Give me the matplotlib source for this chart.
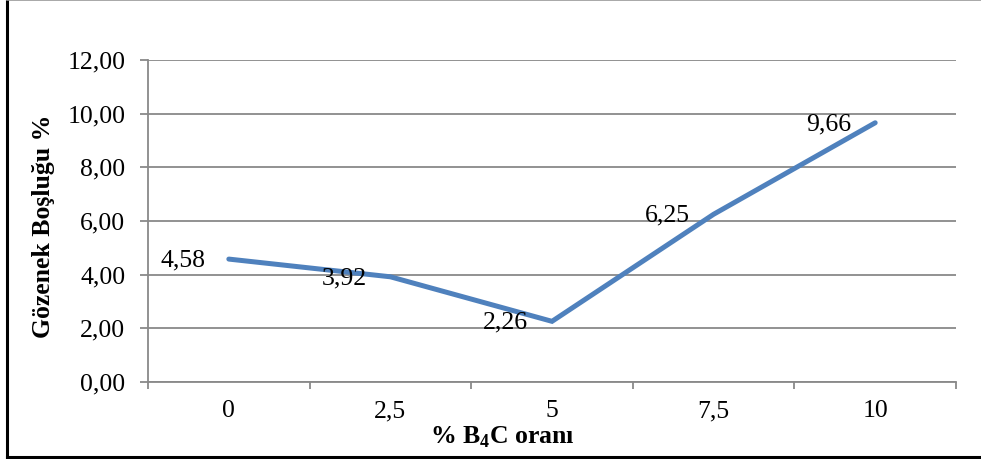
#!/usr/bin/env python3
"""Line chart: pore fraction versus B4C content."""

import matplotlib

matplotlib.use("Agg")
import matplotlib.pyplot as plt
from matplotlib.lines import Line2D
from matplotlib.ticker import FuncFormatter

categories = ["0", "2,5", "5", "7,5", "10"]
porosity = [4.58, 3.92, 2.26, 6.25, 9.66]
y_ticks = [0, 2, 4, 6, 8, 10, 12]

plt.rcParams["font.family"] = ["Liberation Serif", "DejaVu Serif"]
plt.rcParams["mathtext.fontset"] = "custom"
plt.rcParams["mathtext.rm"] = "Liberation Serif"
plt.rcParams["mathtext.bf"] = "Liberation Serif:bold"

GRID = "#898989"
LINE = "#4F81BD"
FS = 18.5

fig = plt.figure(figsize=(9.81, 4.59), dpi=100)
ax = fig.add_axes([0.1509, 0.1678, 0.8236, 0.7015])

x = list(range(len(categories)))
ax.plot(x, porosity, color=LINE, linewidth=3.6, solid_capstyle="round",
        solid_joinstyle="miter", zorder=3)

# data labels sit to the left of each point
for xi, v in zip(x, porosity):
    ax.annotate(f"{v:.2f}".replace(".", ","), (xi, v), xytext=(-17, -1),
                textcoords="offset points", ha="right", va="center",
                fontsize=FS, color="black", zorder=4)

ax.set_xlim(-0.5, len(categories) - 0.5)
ax.set_ylim(0, 12)
ax.set_yticks(y_ticks)
ax.yaxis.set_major_formatter(FuncFormatter(lambda v, _: f"{v:.2f}".replace(".", ",")))
ax.yaxis.grid(True, color=GRID, linewidth=1.3)
ax.set_axisbelow(True)

# category boundaries get the tick marks, labels sit between them
ax.set_xticks([i - 0.5 for i in range(len(categories) + 1)])
ax.set_xticklabels([])
ax.set_xticks(x, minor=True)
ax.set_xticklabels(categories, minor=True)
ax.tick_params(axis="x", which="major", length=5, width=1.3, color=GRID)
ax.tick_params(axis="x", which="minor", length=0, pad=13, labelsize=FS)
ax.tick_params(axis="y", length=5.8, width=1.3, color=GRID, labelsize=FS, pad=10.5)

for side in ("top", "right"):
    ax.spines[side].set_visible(False)
for side in ("left", "bottom"):
    ax.spines[side].set_color(GRID)
    ax.spines[side].set_linewidth(1.3)

fig.text(0.044, 0.508, "Gözenek Boşluğu %", rotation=90, ha="center", va="center",
         fontsize=FS, fontweight="bold")
fig.text(0.512, 0.048, "% B$_\\mathbf{4}$C oranı", ha="center", va="center",
         fontsize=FS, fontweight="bold")

# frame around the chart
fig.add_artist(Line2D([0.0075, 0.0075], [0.004, 0.998], color="black", linewidth=2.2))
fig.add_artist(Line2D([0.0075, 1.0], [0.004, 0.004], color="black", linewidth=2.2))
fig.add_artist(Line2D([0.0075, 1.0], [0.999, 0.999], color="#999999", linewidth=1.2))

fig.savefig("out.png", dpi=100)
plt.close(fig)
